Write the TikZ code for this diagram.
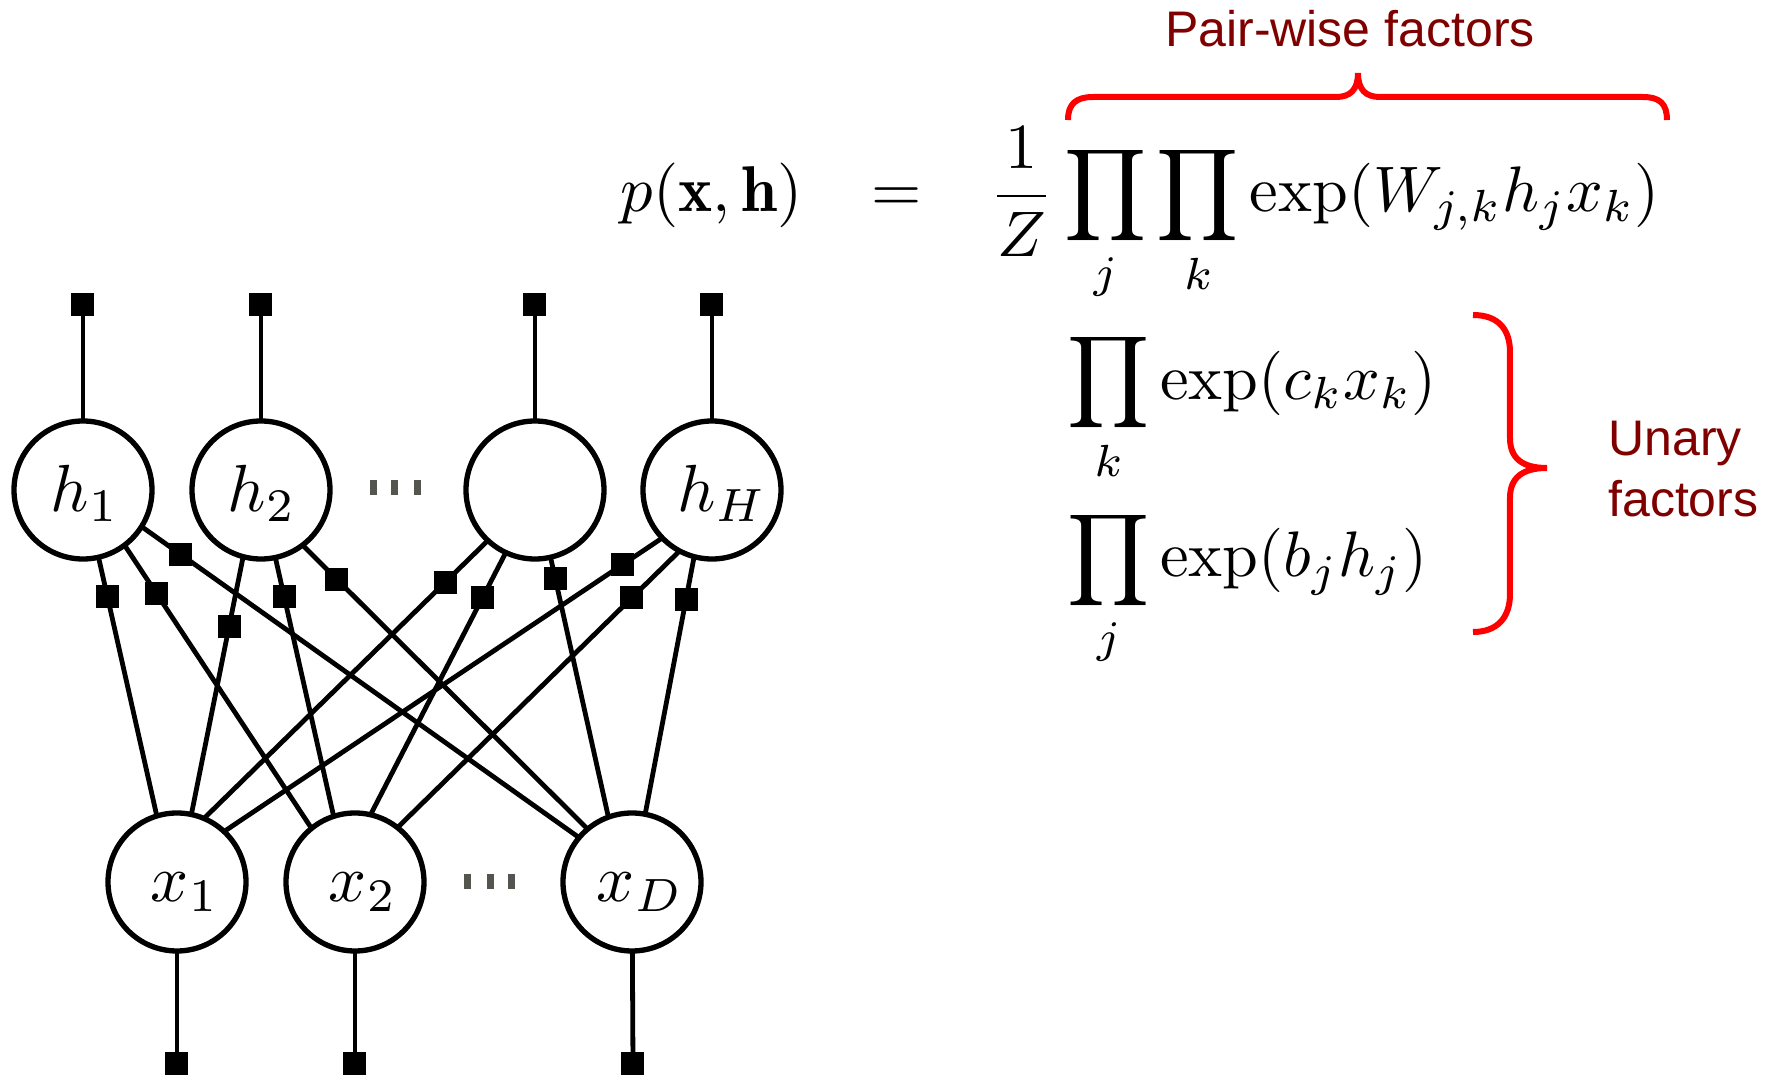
\documentclass[tikz,border=0pt]{standalone}
\usepackage{fontspec}
\newfontfamily\arialfont{Liberation Sans}
\usepackage{amsmath}
\usepackage{graphicx}
\definecolor{pwred}{RGB}{128,0,0}
\definecolor{brred}{RGB}{255,0,0}
\definecolor{dotgray}{RGB}{85,85,80}
\begin{document}
\begin{tikzpicture}[x=0.15pt,y=-0.15pt,
  var/.style={circle,draw,line width=0.8pt,fill=white,minimum size=20.7pt,inner sep=0pt,outer sep=0pt},
  fsq/.style={rectangle,fill=black,minimum size=3.45pt,inner sep=0pt,outer sep=0pt},
  edge/.style={line width=0.72pt},
  lab/.style={inner sep=0pt,anchor=base},
  eqn/.style={inner sep=0pt},
  brace/.style={draw=brred,line width=0.9pt},
  note/.style={text=pwred,font=\arialfont\fontsize{7.5}{9.15}\selectfont,inner sep=0pt},
  ell/.style={fill=dotgray,minimum width=1.05pt,minimum height=2.25pt,inner sep=0pt,outer sep=0pt}]
\useasboundingbox (0,0) rectangle (1773,1076);

% variable nodes
\node[var] (h1) at (83,490) {};
\node[var] (h2) at (261,490) {};
\node[var] (h3) at (535,490) {};
\node[var] (hH) at (712,490) {};
\node[var] (x1) at (177,882) {};
\node[var] (x2) at (355,882) {};
\node[var] (xD) at (632,882) {};

% unary factors
\node[fsq] (t1) at (83,305) {};
\node[fsq] (t2) at (261,305) {};
\node[fsq] (t3) at (535,305) {};
\node[fsq] (tH) at (712,305) {};
\node[fsq] (b1) at (177,1064) {};
\node[fsq] (b2) at (355,1064) {};
\node[fsq] (bD) at (633,1064) {};
\draw[edge] (t1) -- (h1);
\draw[edge] (t2) -- (h2);
\draw[edge] (t3) -- (h3);
\draw[edge] (tH) -- (hH);
\draw[edge] (x1) -- (b1);
\draw[edge] (x2) -- (b2);
\draw[edge] (xD) -- (bD);

% pairwise factors
\draw[edge] (h1.283) -- node[fsq,pos=.15] (f11) {} (x1.107);
\draw[edge] (h1.307) -- node[fsq,pos=.17] (f12) {} (x2.129);
\draw[edge] (h1.328) -- node[fsq,pos=.09] (f1D) {} (xD.140);
\draw[edge] (h2.255) -- node[fsq,pos=.27] (f21) {} (x1.78);
\draw[edge] (h2.282) -- node[fsq,pos=.15] (f22) {} (x2.108);
\draw[edge] (h2.307) -- node[fsq,pos=.12] (f2D) {} (xD.130);
\draw[edge] (h3.227) -- node[fsq,pos=.15] (f31) {} (x1.67);
\draw[edge] (h3.245) -- node[fsq,pos=.17] (f32) {} (x2.77);
\draw[edge] (h3.283) -- node[fsq,pos=.08] (f3D) {} (xD.110);
\draw[edge] (hH.224) -- node[fsq,pos=.09] (fH1) {} (x1.47);
\draw[edge] (hH.242) -- node[fsq,pos=.17] (fH2) {} (x2.52);
\draw[edge] (hH.255) -- node[fsq,pos=.165] (fHD) {} (xD.79);

% labels
\node[lab] (lh1) at (85,512) {$h_1$};
\node[lab] (lh2) at (262,512) {$h_2$};
\node[lab] (lhH) at (722,512) {$h_H$};
\node[lab] (lx1) at (185,902) {$x_1$};
\node[lab] (lx2) at (363,902) {$x_2$};
\node[lab] (lxD) at (640,902) {$x_D$};

% ellipses
\node[ell] (d1) at (374,488) {};
\node[ell] (d2) at (395,488) {};
\node[ell] (d3) at (418,488) {};
\node[ell] (d4) at (468,882) {};
\node[ell] (d5) at (491,882) {};
\node[ell] (d6) at (512,882) {};

% equations
\node[eqn,anchor=base east] (lhs) at (804,212) {\scalebox{0.97}{$p(\mathbf{x},\mathbf{h})$}};
\node[eqn,anchor=base] (eqs) at (897,212) {\scalebox{0.97}{$=$}};
\node[eqn,anchor=base west] (rhs) at (988,212) {\scalebox{0.965}{$\displaystyle\frac{1}{Z}\prod_j\prod_k\exp(W_{j,k}h_jx_k)$}};
\node[eqn,anchor=base west] (un1) at (1066,399) {\scalebox{0.965}{$\displaystyle\prod_k\exp(c_kx_k)$}};
\node[eqn,anchor=base west] (un2) at (1066,577) {\scalebox{0.965}{$\displaystyle\prod_j\exp(b_jh_j)$}};

% braces
\draw[brace] (1068,120) .. controls (1068,104) and (1076,97) .. (1093,97) -- (1336,97)
  .. controls (1350,97) and (1358,90) .. (1358,73)
  .. controls (1358,90) and (1366,97) .. (1380,97) -- (1643,97)
  .. controls (1660,97) and (1667,104) .. (1667,120);
\draw[brace] (1473,315) .. controls (1497,315) and (1510,328) .. (1510,352) -- (1510,438)
  .. controls (1510,458) and (1522,468) .. (1547,468)
  .. controls (1522,468) and (1510,478) .. (1510,498) -- (1510,594)
  .. controls (1510,618) and (1497,632) .. (1473,632);

\node[note,anchor=base] (pw) at (1350,47) {Pair-wise factors};
\node[note,anchor=north west,align=left] (un) at (1607,420) {Unary\\factors};
\end{tikzpicture}
\end{document}
